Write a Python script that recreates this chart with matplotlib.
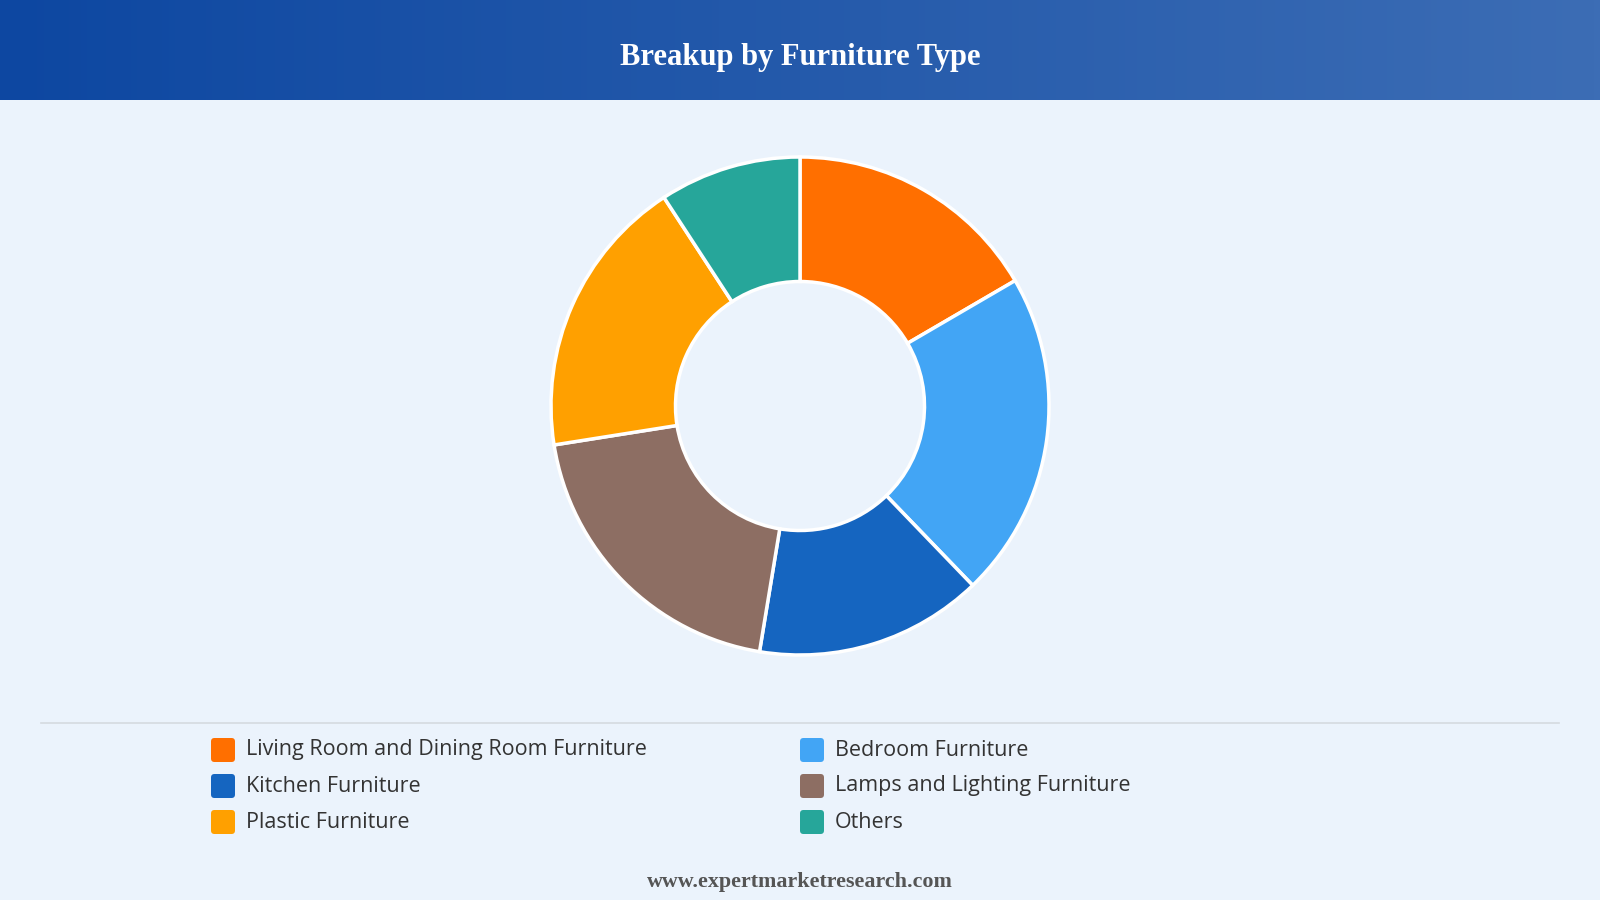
import numpy as np
import matplotlib.pyplot as plt
from matplotlib.patches import FancyBboxPatch
from matplotlib.colors import LinearSegmentedColormap

# Slice data (share in %), clockwise from 12 o'clock
labels = ['Living Room and Dining Room Furniture', 'Bedroom Furniture',
          'Kitchen Furniture', 'Lamps and Lighting Furniture',
          'Plastic Furniture', 'Others']
shares = [16.6, 21.2, 14.8, 19.9, 18.3, 9.2]
colours = ['#FF6F00', '#42A5F5', '#1565C0', '#8D6E63', '#FFA000', '#26A69A']

title = 'Breakup by Furniture Type'
footer = 'www.expertmarketresearch.com'

W, H = 1600, 900
fig = plt.figure(figsize=(16, 9), dpi=100)
fig.patch.set_facecolor('#EBF3FC')

# header band with gradient
hdr = fig.add_axes([0, 1 - 100 / H, 1, 100 / H])
grad = np.linspace(0, 1, 256).reshape(1, -1)
cmap = LinearSegmentedColormap.from_list('hdr', ['#0D47A1', '#3C6DB5'])
hdr.imshow(grad, aspect='auto', cmap=cmap, extent=[0, 1, 0, 1])
hdr.set_axis_off()
hdr.text(0.5, 0.42, title, ha='center', va='center', color='white',
         fontsize=22, fontweight='bold', family='Liberation Serif')

# donut
r_out = 249
ax = fig.add_axes([(800 - r_out) / W, (H - 406 - r_out) / H, 2 * r_out / W, 2 * r_out / H])
ax.pie(shares, colors=colours, startangle=90, counterclock=False, radius=1,
       wedgeprops=dict(width=0.5, edgecolor='white', linewidth=2.5))
ax.set_xlim(-1.0, 1.0)
ax.set_ylim(-1.0, 1.0)
ax.set_aspect('equal')
ax.set_axis_off()

# overlay for legend and lines in pixel coords
ov = fig.add_axes([0, 0, 1, 1], zorder=5)
ov.set_xlim(0, W)
ov.set_ylim(H, 0)
ov.set_axis_off()
ov.patch.set_alpha(0)

ov.plot([41, 1559], [723, 723], color='#D5DAE0', lw=1.2)

col_x = [211, 800]
row_y = [750, 786, 822]
for i, (lab, c) in enumerate(zip(labels, colours)):
    x = col_x[i % 2]
    y = row_y[i // 2]
    ov.add_patch(FancyBboxPatch((x, y - 12), 24, 24,
                                boxstyle='round,pad=0,rounding_size=3.5',
                                fc=c, ec='none'))
    ov.text(x + 35, y, lab, ha='left', va='center', fontsize=15.5,
            color='#333333', family='Open Sans')

ov.text(800, 882, footer, ha='center', va='center', fontsize=15.8,
        fontweight='bold', color='#555555', family='Liberation Serif')

fig.savefig('out.png', dpi=100, facecolor=fig.get_facecolor())
